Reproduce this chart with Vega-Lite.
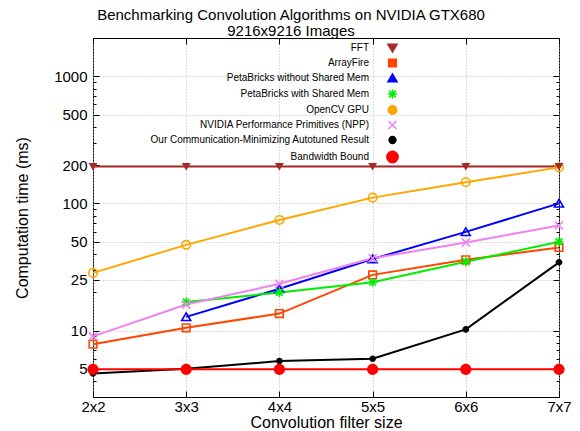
{
  "$schema": "https://vega.github.io/schema/vega-lite/v6.json",
  "width": 466,
  "height": 359,
  "autosize": "none",
  "padding": {"left": 93, "top": 38, "right": 21, "bottom": 34},
  "title": {
    "text": ["Benchmarking Convolution Algorithms on NVIDIA GTX680", "9216x9216 Images"],
    "fontSize": 15, "fontWeight": "normal", "font": "Liberation Sans", "color": "#000",
    "anchor": "middle", "dx": -35, "dy": 2, "offset": 1, "lineHeight": 15.5
  },
  "config": {
    "view": {"stroke": "#000", "strokeWidth": 1},
    "font": "Liberation Sans",
    "axis": {
      "labelFont": "Liberation Sans", "titleFont": "Liberation Sans",
      "labelColor": "#000", "titleColor": "#000", "tickColor": "#000",
      "domain": false, "grid": false, "labelFontSize": 15, "titleFontSize": 16, "titleFontWeight": "normal"
    }
  },
  "data": {
    "values": [
      {"x": "2x2", "series": "FFT", "v": 195},
      {"x": "3x3", "series": "FFT", "v": 195},
      {"x": "4x4", "series": "FFT", "v": 195},
      {"x": "5x5", "series": "FFT", "v": 195},
      {"x": "6x6", "series": "FFT", "v": 195},
      {"x": "7x7", "series": "FFT", "v": 195},
      {"x": "2x2", "series": "ArrayFire", "v": 7.8},
      {"x": "3x3", "series": "ArrayFire", "v": 10.5},
      {"x": "4x4", "series": "ArrayFire", "v": 13.6},
      {"x": "5x5", "series": "ArrayFire", "v": 27.4},
      {"x": "6x6", "series": "ArrayFire", "v": 36},
      {"x": "7x7", "series": "ArrayFire", "v": 45},
      {"x": "3x3", "series": "PetaBricks without Shared Mem", "v": 12.8},
      {"x": "4x4", "series": "PetaBricks without Shared Mem", "v": 21.3},
      {"x": "5x5", "series": "PetaBricks without Shared Mem", "v": 36.5},
      {"x": "6x6", "series": "PetaBricks without Shared Mem", "v": 59.7},
      {"x": "7x7", "series": "PetaBricks without Shared Mem", "v": 100},
      {"x": "3x3", "series": "PetaBricks with Shared Mem", "v": 16.8},
      {"x": "4x4", "series": "PetaBricks with Shared Mem", "v": 19.9},
      {"x": "5x5", "series": "PetaBricks with Shared Mem", "v": 24},
      {"x": "6x6", "series": "PetaBricks with Shared Mem", "v": 34.8},
      {"x": "7x7", "series": "PetaBricks with Shared Mem", "v": 49.9},
      {"x": "2x2", "series": "OpenCV GPU", "v": 28.4},
      {"x": "3x3", "series": "OpenCV GPU", "v": 47.2},
      {"x": "4x4", "series": "OpenCV GPU", "v": 74},
      {"x": "5x5", "series": "OpenCV GPU", "v": 111},
      {"x": "6x6", "series": "OpenCV GPU", "v": 146.7},
      {"x": "7x7", "series": "OpenCV GPU", "v": 192},
      {"x": "2x2", "series": "NVIDIA Performance Primitives (NPP)", "v": 9.0},
      {"x": "3x3", "series": "NVIDIA Performance Primitives (NPP)", "v": 16},
      {"x": "4x4", "series": "NVIDIA Performance Primitives (NPP)", "v": 23.3},
      {"x": "5x5", "series": "NVIDIA Performance Primitives (NPP)", "v": 37},
      {"x": "6x6", "series": "NVIDIA Performance Primitives (NPP)", "v": 49.3},
      {"x": "7x7", "series": "NVIDIA Performance Primitives (NPP)", "v": 67},
      {"x": "2x2", "series": "Our Communication-Minimizing Autotuned Result", "v": 4.6},
      {"x": "3x3", "series": "Our Communication-Minimizing Autotuned Result", "v": 5.0},
      {"x": "4x4", "series": "Our Communication-Minimizing Autotuned Result", "v": 5.75},
      {"x": "5x5", "series": "Our Communication-Minimizing Autotuned Result", "v": 6.0},
      {"x": "6x6", "series": "Our Communication-Minimizing Autotuned Result", "v": 10.2},
      {"x": "7x7", "series": "Our Communication-Minimizing Autotuned Result", "v": 34.4},
      {"x": "2x2", "series": "Bandwidth Bound", "v": 4.95},
      {"x": "3x3", "series": "Bandwidth Bound", "v": 4.95},
      {"x": "4x4", "series": "Bandwidth Bound", "v": 4.95},
      {"x": "5x5", "series": "Bandwidth Bound", "v": 4.95},
      {"x": "6x6", "series": "Bandwidth Bound", "v": 4.95},
      {"x": "7x7", "series": "Bandwidth Bound", "v": 4.95}
    ]
  },
  "resolve": {"axis": {"x": "independent", "y": "independent"}},
  "layer": [
    {
      "mark": {"type": "line", "strokeWidth": 2},
      "encoding": {
        "x": {"field": "x", "type": "ordinal", "scale": {"type": "point", "padding": 0, "domain": ["2x2", "3x3", "4x4", "5x5", "6x6", "7x7"]},
          "axis": {"title": "Convolution filter size", "labelAngle": 0, "grid": true, "gridColor": "#b8b8b8", "gridDash": [1, 2], "tickSize": -6, "labelPadding": 8, "titlePadding": 0, "orient": "bottom"}},
        "y": {"field": "v", "type": "quantitative", "scale": {"type": "log", "domain": [3, 2000], "nice": false},
          "axis": {"title": "Computation time (ms)", "values": [5, 10, 25, 50, 100, 200, 500, 1000], "format": "d", "grid": true, "gridColor": "#b8b8b8", "gridDash": [1, 2], "tickSize": -6, "labelPadding": 12, "titlePadding": 23, "orient": "left"}},
        "color": {
          "field": "series", "type": "nominal",
          "scale": {
            "domain": ["FFT", "ArrayFire", "PetaBricks without Shared Mem", "PetaBricks with Shared Mem", "OpenCV GPU", "NVIDIA Performance Primitives (NPP)", "Our Communication-Minimizing Autotuned Result", "Bandwidth Bound"],
            "range": ["#a52a2a", "#ff4500", "#0000ff", "#00ee00", "#ffa500", "#ee82ee", "#000000", "#ff0000"]
          },
          "legend": {
            "orient": "none", "legendX": 294, "legendY": 4.5, "title": null, "padding": 0,
            "symbolSize": 80, "symbolStrokeWidth": 1.6, "rowPadding": 0,
            "labelFont": "Liberation Sans", "labelFontSize": 10, "labelColor": "#000", "labelLimit": 300, "labelAlign": "right",
            "encode": {
              "labels": {"update": {"x": {"value": -18}}}
            }
          }
        },
        "detail": {"field": "series"}
      }
    },
    {
      "transform": [{"filter": "indexof(['ArrayFire','PetaBricks without Shared Mem','PetaBricks with Shared Mem'], datum.series) >= 0"}],
      "mark": {"type": "point", "filled": false, "size": 80, "strokeWidth": 1.6, "opacity": 1},
      "encoding": {
        "x": {"field": "x", "type": "ordinal", "axis": {"orient": "top", "labels": false, "title": null, "tickSize": -6, "grid": false}},
        "y": {"field": "v", "type": "quantitative", "axis": {"orient": "right", "values": [5, 10, 25, 50, 100, 200, 500, 1000], "labels": false, "title": null, "tickSize": -6, "grid": false}},
        "color": {"field": "series", "type": "nominal", "legend": null},
        "shape": {"field": "series", "type": "nominal", "legend": null,
          "scale": {
            "domain": ["FFT", "ArrayFire", "PetaBricks without Shared Mem", "PetaBricks with Shared Mem", "OpenCV GPU", "NVIDIA Performance Primitives (NPP)", "Our Communication-Minimizing Autotuned Result", "Bandwidth Bound"],
            "range": ["M-1,-0.8L1,-0.8L0,0.9Z", "M-0.85,-0.85H0.85V0.85H-0.85Z", "M-1,0.8L1,0.8L0,-0.9Z", "M-1,0H1M0,-1V1M-0.75,-0.75L0.75,0.75M-0.75,0.75L0.75,-0.75", "M0.95,0A0.95,0.95 0 1,1 -0.95,0A0.95,0.95 0 1,1 0.95,0Z", "M-0.9,-0.9L0.9,0.9M-0.9,0.9L0.9,-0.9", "M0.75,0A0.75,0.75 0 1,1 -0.75,0A0.75,0.75 0 1,1 0.75,0Z", "M1.25,0A1.25,1.25 0 1,1 -1.25,0A1.25,1.25 0 1,1 1.25,0Z"]
          }}
      }
    },
    {
      "transform": [{"filter": "indexof(['OpenCV GPU','NVIDIA Performance Primitives (NPP)'], datum.series) >= 0"}],
      "mark": {"type": "point", "filled": false, "size": 80, "strokeWidth": 1.6, "opacity": 1},
      "encoding": {
        "x": {"field": "x", "type": "ordinal", "axis": null},
        "y": {"field": "v", "type": "quantitative", "axis": {"orient": "left", "values": [4, 6, 7, 8, 9, 20, 30, 40, 60, 70, 80, 90, 300, 400, 600, 700, 800, 900, 2000], "labels": false, "title": null, "tickSize": -3, "grid": false}},
        "color": {"field": "series", "type": "nominal", "legend": null},
        "shape": {"field": "series", "type": "nominal", "legend": null}
      }
    },
    {
      "transform": [{"filter": "indexof(['FFT','Our Communication-Minimizing Autotuned Result','Bandwidth Bound'], datum.series) >= 0"}],
      "mark": {"type": "point", "filled": true, "size": 80, "opacity": 1},
      "encoding": {
        "x": {"field": "x", "type": "ordinal", "axis": null},
        "y": {"field": "v", "type": "quantitative", "axis": {"orient": "right", "values": [4, 6, 7, 8, 9, 20, 30, 40, 60, 70, 80, 90, 300, 400, 600, 700, 800, 900, 2000], "labels": false, "title": null, "tickSize": -3, "grid": false}},
        "color": {"field": "series", "type": "nominal", "legend": null},
        "shape": {"field": "series", "type": "nominal", "legend": null}
      }
    }
  ]
}
